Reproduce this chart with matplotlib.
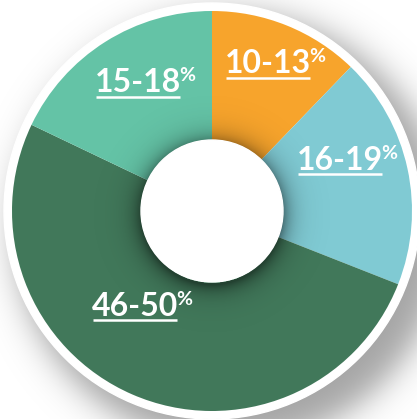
#!/usr/bin/env python3

import numpy as np
import matplotlib
matplotlib.use('Agg')
from matplotlib import pyplot as plt
from matplotlib.patches import Circle


labels    = ['10-13', '16-19', '46-50', '15-18']
shares    = [12.2, 18.75, 51.1, 17.9]
colors    = ['#F7A42C', '#80CAD3', '#41785A', '#64C3A6']
# centre / baseline of each label, pixels from the top-left corner
label_pos = [(268, 73), (340, 170), (135, 316), (138, 92)]

W, H   = 417, 419
cx, cy = 212, H - 211
r_out  = 200
r_in   = 71
r_rim  = 208

fig = plt.figure(figsize=(W / 100, H / 100), dpi=100)
ax  = fig.add_axes([0, 0, 1, 1])
ax.set_xlim(0, W)
ax.set_ylim(0, H)
ax.set_aspect('equal')
ax.axis('off')

yy, xx = np.mgrid[0:H, 0:W] + 0.5

# soft drop shadow behind the white rim, pushed to the lower right
d = np.hypot(xx - (cx + 18), yy - (cy - 18))
a = 0.36 / (1 + np.exp((d - 216) / 10))
shadow = np.zeros((H, W, 4))
shadow[..., 3] = a
ax.imshow(shadow, extent=(0, W, 0, H), origin='lower', zorder=0, interpolation='bilinear')

ax.add_patch(Circle((cx, cy), r_rim, color='white', zorder=1))

wedges, _ = ax.pie(shares, colors=colors, startangle=90, counterclock=False,
                   center=(cx, cy), radius=r_out, frame=True,
                   wedgeprops=dict(width=r_out - r_in, linewidth=0))
for w in wedges:
    w.set_zorder(2)
ax.set_xlim(0, W)
ax.set_ylim(0, H)
ax.axis('off')

# shadow thrown by the centre disc onto the ring
d = np.hypot(xx - cx, yy - (cy - 3))
a = np.where(d > r_in - 2, 0.45 * np.exp(-np.clip(d - r_in, 0, None) / 10), 0)
inner = np.zeros((H, W, 4))
inner[..., 3] = a
ax.imshow(inner, extent=(0, W, 0, H), origin='lower', zorder=3, interpolation='bilinear')

ax.add_patch(Circle((cx, cy), r_in, color='white', zorder=4))

fig.canvas.draw()
rend = fig.canvas.get_renderer()
for lab, (x, y) in zip(labels, label_pos):
    t = ax.text(x, H - y, lab, fontsize=23, fontweight='bold', family='Lato',
                color='white', ha='center', va='baseline', zorder=5)
    bb = t.get_window_extent(renderer=rend)
    ax.plot([bb.x0 + 1, bb.x1 - 1], [H - y - 4.5] * 2, color='white', lw=1.8,
            solid_capstyle='butt', zorder=5)
    ax.text(bb.x1 - 1.5, H - y + 25, '%', fontsize=14, fontweight='bold', family='Lato',
            color='white', ha='left', va='top', zorder=5)

plt.savefig('out.png', dpi=100)
